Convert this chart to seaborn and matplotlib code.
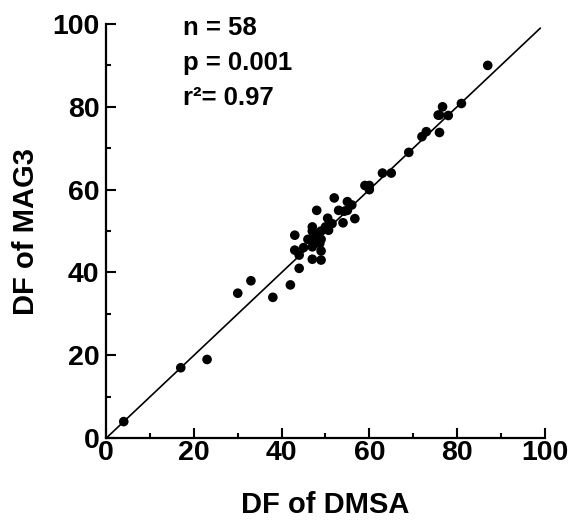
import matplotlib
matplotlib.use("Agg")
import matplotlib.pyplot as plt
import seaborn as sns
import numpy as np
import pandas as pd
from matplotlib.ticker import MultipleLocator

# ---- data ----
dmsa = [4, 17, 23, 30, 33, 38, 42, 44, 43, 44, 43, 47, 49, 49, 47, 47, 47.5, 47,
        48.7, 48, 50.5, 50, 50.7, 51.5, 52, 54, 54.3, 55, 56, 56.7, 59, 60, 63,
        65, 69, 72, 73, 76, 75.7, 76.7, 78, 81, 87,
        47, 48, 47.5, 49, 46, 50, 47, 53, 55, 45, 60, 76, 49, 48]
mag3 = [4, 17, 19, 35, 38, 34, 37, 41, 45.4, 44.2, 49, 43.2, 43, 45.2, 46.2, 48.2, 49, 51,
        47, 55, 53.1, 50.6, 50.2, 51.8, 58, 52, 54.8, 57.1, 56.3, 53, 61, 60, 64,
        64, 69, 72.8, 74, 73.8, 78, 80, 77.9, 80.8, 90,
        48, 49, 47.5, 50, 48, 51, 50, 55, 55, 46, 61, 78, 48, 48]
fit_slope = 1.0
fit_intercept = 0.0
fit_range = [0, 99]
stats_lines = ["n = 58", "p = 0.001", "r\u00b2= 0.97"]
ticks = [0, 20, 40, 60, 80, 100]

df = pd.DataFrame({"DMSA": dmsa, "MAG3": mag3})
fx = np.array(fit_range, dtype=float)
fit_df = pd.DataFrame({"x": fx, "y": fit_intercept + fit_slope * fx})

sns.set_style("ticks")
plt.rcParams["font.family"] = ["Liberation Sans", "DejaVu Sans"]
plt.rcParams["font.weight"] = "bold"
for k in ["text.color", "axes.labelcolor", "xtick.color", "ytick.color", "axes.edgecolor"]:
    plt.rcParams[k] = "black"

fig = plt.figure(figsize=(5.71, 5.21), dpi=100)
ax = fig.add_axes([0.186, 0.159, 0.768, 0.795])

sns.lineplot(data=fit_df, x="x", y="y", ax=ax, color="black", linewidth=1.2)
sns.scatterplot(data=df, x="DMSA", y="MAG3", ax=ax, color="black", s=48,
                edgecolor="none", zorder=3, clip_on=False)

ax.set_xlim(0, 100)
ax.set_ylim(0, 100)
ax.set_xticks(ticks)
ax.set_yticks(ticks)
ax.xaxis.set_minor_locator(MultipleLocator(10))
ax.yaxis.set_minor_locator(MultipleLocator(10))
ax.tick_params(which="major", direction="in", length=7, width=1.5,
               labelsize=20.5, color="black")
ax.tick_params(which="minor", direction="in", length=3.5, width=1.5, color="black")
ax.tick_params(axis="x", pad=1)
ax.tick_params(axis="y", pad=5)
for lab in ax.get_xticklabels() + ax.get_yticklabels():
    lab.set_fontweight("bold")

for side in ["top", "right"]:
    ax.spines[side].set_visible(False)
for side in ["left", "bottom"]:
    ax.spines[side].set_linewidth(1.6)
    ax.spines[side].set_color("black")

ax.set_xlabel("DF of DMSA", fontsize=21, fontweight="bold", labelpad=18)
ax.set_ylabel("DF of MAG3", fontsize=21, fontweight="bold", labelpad=9)

for i, t in enumerate(stats_lines):
    ax.text(17.5, 99 - i * 8.4, t, fontsize=18.5, fontweight="bold",
            ha="left", va="center", transform=ax.transData)

fig.savefig("out.png", dpi=100)
